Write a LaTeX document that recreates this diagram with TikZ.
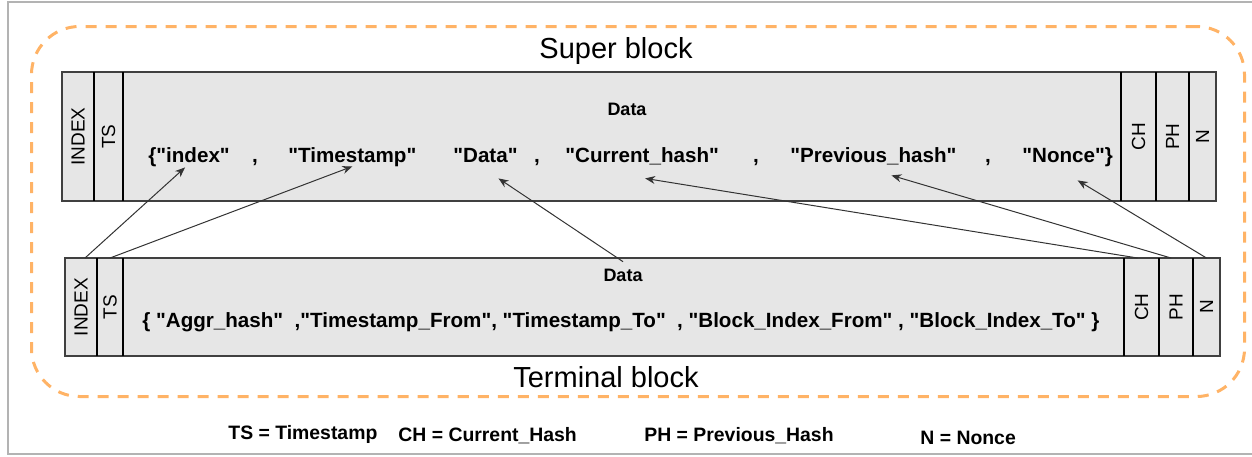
\documentclass[tikz,border=0pt]{standalone}
\usepackage{fontspec}
\setmainfont{Liberation Sans}
\usetikzlibrary{positioning, arrows.meta}

\definecolor{cellgray}{HTML}{E6E6E6}
\definecolor{dashorange}{HTML}{FFB366}
\definecolor{framegray}{HTML}{B3B3B3}

\newcommand{\qt}[1]{\textquotedbl#1\textquotedbl}

\begin{document}
\begin{tikzpicture}[x=0.5pt, y=-0.5pt, >={Stealth[length=5pt,width=4pt]},
		cell/.style={fill=cellgray, inner sep=0pt, outer sep=0pt},
		super cell/.style={cell, minimum height=64.5pt},
		terminal cell/.style={cell, minimum height=49pt},
		col label/.style={rotate=90, inner sep=0pt, font=\fontsize{9.5}{11}\selectfont},
		word/.style={inner sep=0pt, anchor=base west, text depth=2pt, font=\fontsize{10.3}{12}\selectfont\bfseries},
		small label/.style={font=\fontsize{9}{11}\selectfont\bfseries},
		legend/.style={inner sep=0pt, anchor=base west, font=\fontsize{9.7}{12}\selectfont\bfseries},
		block border/.style={draw=black!75, line width=0.6pt},
		divider/.style={draw=black, line width=1pt},
		link/.style={->, draw=black!80, line width=0.5pt}]

		\useasboundingbox (0,0) rectangle (1252,456);

		%% Frames
		\begin{scope}
			\node (frame) at (7,1) [draw=framegray, line width=1pt, anchor=north west, minimum width=700pt, minimum height=226pt] {};
			\node (container) at (30,25) [draw=dashorange, line width=1.5pt, dash pattern=on 5.5pt off 4.5pt, rounded corners=24pt, anchor=north west, minimum width=606.5pt, minimum height=185pt] {};
			\node (super_title) at (616,51) {\fontsize{14.5}{17}\selectfont Super block};
			\node (terminal_title) at (606,377) {\fontsize{14.5}{17}\selectfont Terminal block};
		\end{scope}

		% Super block
		\begin{scope}
			\node (s_index) at (62,136.5) [super cell, anchor=west, minimum width=16pt] {};
			\node (s_ts) [super cell, minimum width=14.5pt, right=0pt of s_index] {};
			\node (s_data) [super cell, minimum width=499pt, right=0pt of s_ts] {};
			\node (s_ch) [super cell, minimum width=17.5pt, right=0pt of s_data] {};
			\node (s_ph) [super cell, minimum width=16.5pt, right=0pt of s_ch] {};
			\node (s_n) [super cell, minimum width=13.5pt, right=0pt of s_ph] {};

			\node (s_index_lbl) at (s_index) [col label] {INDEX};
			\node (s_ts_lbl) at (s_ts) [col label] {TS};
			\node (s_ch_lbl) at (s_ch) [col label] {CH};
			\node (s_ph_lbl) at (s_ph) [col label] {PH};
			\node (s_n_lbl) at (s_n) [col label] {N};
			\node (s_data_lbl) at (627,109) [small label] {Data};

			\node (idx_word) at (148,162) [word] {\{\qt{index}};
			\node (comma1) at (255,162) [word, anchor=base] {,};
			\node (ts_word) at (288,162) [word] {\qt{Timestamp}};
			\node (data_word) at (453,162) [word] {\qt{Data}};
			\node (comma2) at (537,162) [word, anchor=base] {,};
			\node (ch_word) at (565,162) [word] {\qt{Current\_hash}};
			\node (comma3) at (756,162) [word, anchor=base] {,};
			\node (ph_word) at (790,162) [word] {\qt{Previous\_hash}};
			\node (comma4) at (988,162) [word, anchor=base] {,};
			\node (nonce_word) at (1022,162) [word] {\qt{Nonce}\}};
		\end{scope}

		% Terminal block
		\begin{scope}
			\node (t_index) at (65,307) [terminal cell, anchor=west, minimum width=16pt] {};
			\node (t_ts) [terminal cell, minimum width=13pt, right=0pt of t_index] {};
			\node (t_data) [terminal cell, minimum width=500.5pt, right=0pt of t_ts] {};
			\node (t_ch) [terminal cell, minimum width=17.5pt, right=0pt of t_data] {};
			\node (t_ph) [terminal cell, minimum width=17pt, right=0pt of t_ch] {};
			\node (t_n) [terminal cell, minimum width=13.5pt, right=0pt of t_ph] {};

			\node (t_index_lbl) at (t_index) [col label] {INDEX};
			\node (t_ts_lbl) at (t_ts) [col label] {TS};
			\node (t_ch_lbl) at (t_ch) [col label] {CH};
			\node (t_ph_lbl) at (t_ph) [col label] {PH};
			\node (t_n_lbl) at (t_n) [col label] {N};
			\node (t_data_lbl) at (623,275) [small label] {Data};

			\node (t_data_text) at (142,327) [word] {\{ \qt{Aggr\_hash}\ \ ,\qt{Timestamp\_From}, \qt{Timestamp\_To}\ \ , \qt{Block\_Index\_From} , \qt{Block\_Index\_To} \}};
		\end{scope}

		% Borders
		\draw[block border] (s_index.north west) rectangle (s_n.south east);
		\draw[divider] (s_index.north east) -- (s_index.south east);
		\draw[divider] (s_ts.north east) -- (s_ts.south east);
		\draw[divider] (s_data.north east) -- (s_data.south east);
		\draw[divider] (s_ch.north east) -- (s_ch.south east);
		\draw[divider] (s_ph.north east) -- (s_ph.south east);

		\draw[block border] (t_index.north west) rectangle (t_n.south east);
		\draw[divider] (t_index.north east) -- (t_index.south east);
		\draw[divider] (t_ts.north east) -- (t_ts.south east);
		\draw[divider] (t_data.north east) -- (t_data.south east);
		\draw[divider] (t_ch.north east) -- (t_ch.south east);
		\draw[divider] (t_ph.north east) -- (t_ph.south east);

		% Legend
		\node (legend_ts) at (228,439) [legend] {TS = Timestamp};
		\node (legend_ch) at (398,441) [legend] {CH = Current\_Hash};
		\node (legend_ph) at (644,441) [legend] {PH = Previous\_Hash};
		\node (legend_n) at (920,444) [legend] {N = Nonce};

		%% Edges
		\draw[link] ([xshift=2pt]t_index.north) -- ([xshift=-2pt,yshift=-0.5pt]idx_word.south);
		\draw[link] (t_ts.north) -- (ts_word.south);
		\draw[link] (t_data_lbl.north) -- ([xshift=6.5pt,yshift=-6pt]data_word.south);
		\draw[link] ([xshift=-2pt]t_ch.north) -- ([xshift=1.5pt,yshift=-6pt]ch_word.south);
		\draw[link] ([xshift=-2.5pt]t_ph.north) -- ([xshift=9pt,yshift=-4.5pt]ph_word.south);
		\draw[link] (t_n.north) -- ([xshift=5pt,yshift=-7pt]nonce_word.south);
	\end{tikzpicture}
\end{document}
